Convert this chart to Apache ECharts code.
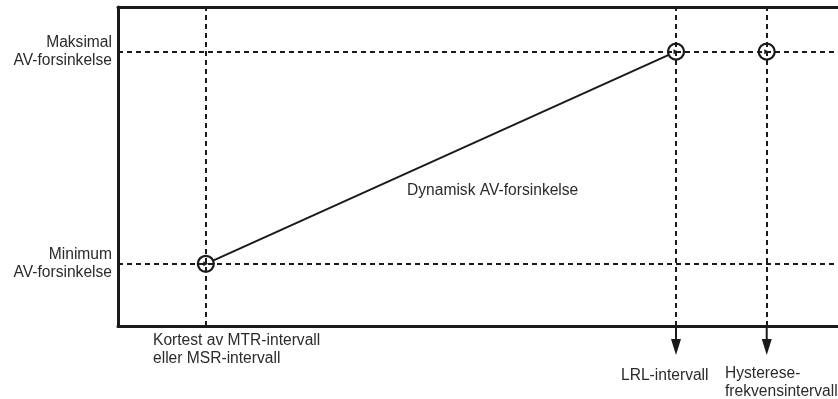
<!DOCTYPE html>
<html>
<head>
<meta charset="utf-8">
<script src="https://cdn.jsdelivr.net/npm/echarts@6/dist/echarts.min.js"></script>
<style>
  html, body { margin: 0; padding: 0; background: #fff; }
  #chart { width: 838px; height: 399px; }
</style>
</head>
<body>
<div id="chart"></div>
<script>
// punkter (x i % av bredde, y i % av hoyde)
const pointX = [12.2, 77.5, 90.1];
const pointY = [19.5, 86, 86];
const dynamicLineIdx = [0, 1];          // linjen går mellom de to første punktene
const arrowX = [77.5, 90.1];            // piler under aksen
const yLabelValues = [19.5, 86];
const yLabelTexts = ['Minimum\nAV-forsinkelse', 'Maksimal\nAV-forsinkelse'];

const ink = '#1a1a1a';
const textColor = '#2b2b2b';
const font = 'Liberation Sans, Arial, sans-serif';
const fontSize = 15.6;

let $e = echarts.init(document.getElementById('chart'));

let points = pointX.map(function (x, i) { return [x, pointY[i]]; });
let lineData = dynamicLineIdx.map(function (i) { return points[i]; });

let dashStyle = { color: ink, width: 2, type: [5, 4], opacity: 1 };
let markData = [];
pointX.forEach(function (x) { markData.push({ xAxis: x }); });
yLabelValues.forEach(function (y) { markData.push({ yAxis: y }); });

let axisBase = {
    type: 'value',
    min: 0,
    max: 100,
    axisTick: { show: false },
    axisLabel: { show: false },
    splitLine: { show: false },
    axisLine: { show: true, onZero: false, lineStyle: { color: ink, width: 3 } }
};

let option = {
    animation: false,
    grid: { left: 118, right: 0, top: 7, bottom: 73 },
    xAxis: [
        Object.assign({}, axisBase, { position: 'bottom' }),
        Object.assign({}, axisBase, { position: 'top' })
    ],
    yAxis: {
        type: 'value',
        min: 0,
        max: 100,
        axisTick: { show: false },
        splitLine: { show: false },
        axisLine: { show: true, lineStyle: { color: ink, width: 3 } },
        axisLabel: {
            customValues: yLabelValues,
            margin: 6,
            color: textColor,
            fontFamily: font,
            fontSize: fontSize,
            lineHeight: 18,
            align: 'right',
            formatter: function (v) {
                let i = yLabelValues.indexOf(v);
                return i >= 0 ? yLabelTexts[i] : '';
            }
        }
    },
    series: [
        {
            // stiplede hjelpelinjer
            type: 'line',
            data: [],
            z: 1,
            markLine: {
                silent: true,
                symbol: 'none',
                label: { show: false },
                lineStyle: dashStyle,
                emphasis: { disabled: true },
                data: markData
            }
        },
        {
            name: 'Dynamisk AV-forsinkelse',
            type: 'line',
            data: lineData,
            symbol: 'none',
            z: 3,
            lineStyle: { color: ink, width: 2 }
        },
        {
            type: 'scatter',
            data: points,
            symbol: 'circle',
            symbolSize: 16,
            z: 4,
            itemStyle: { color: '#fff', borderColor: ink, borderWidth: 2.2, opacity: 1 }
        },
        {
            type: 'scatter',
            data: points,
            symbol: 'triangle',
            symbolRotate: -90,
            symbolSize: 5,
            z: 5,
            itemStyle: { color: ink, opacity: 1 }
        }
    ]
};
$e.setOption(option);

// piler under x-aksen, plassert via aksens skala
let graphics = [];
arrowX.forEach(function (x) {
    let p = $e.convertToPixel({ xAxisIndex: 0, yAxisIndex: 0 }, [x, 0]);
    graphics.push({
        type: 'line',
        shape: { x1: p[0], y1: p[1], x2: p[0], y2: p[1] + 16 },
        style: { stroke: ink, lineWidth: 2 }
    });
    graphics.push({
        type: 'polygon',
        shape: { points: [[p[0] - 5, p[1] + 13], [p[0] + 5, p[1] + 13], [p[0], p[1] + 29]] },
        style: { fill: ink }
    });
});

let txt = function (x, y, text, align) {
    return {
        type: 'text',
        x: x,
        y: y,
        style: {
            text: text,
            fill: textColor,
            font: fontSize + 'px ' + font,
            lineHeight: 18,
            align: align || 'left',
            verticalAlign: 'middle'
        }
    };
};
graphics.push(txt(153, 350, 'Kortest av MTR-intervall\neller MSR-intervall'));
graphics.push(txt(621, 376, 'LRL-intervall'));
graphics.push(txt(725, 383, 'Hysterese-\nfrekvensintervall'));
graphics.push(txt(407, 191, 'Dynamisk AV-forsinkelse'));

$e.setOption({ graphic: graphics });

window.onresize = function () {
    $e.resize();
};
</script>
</body>
</html>
